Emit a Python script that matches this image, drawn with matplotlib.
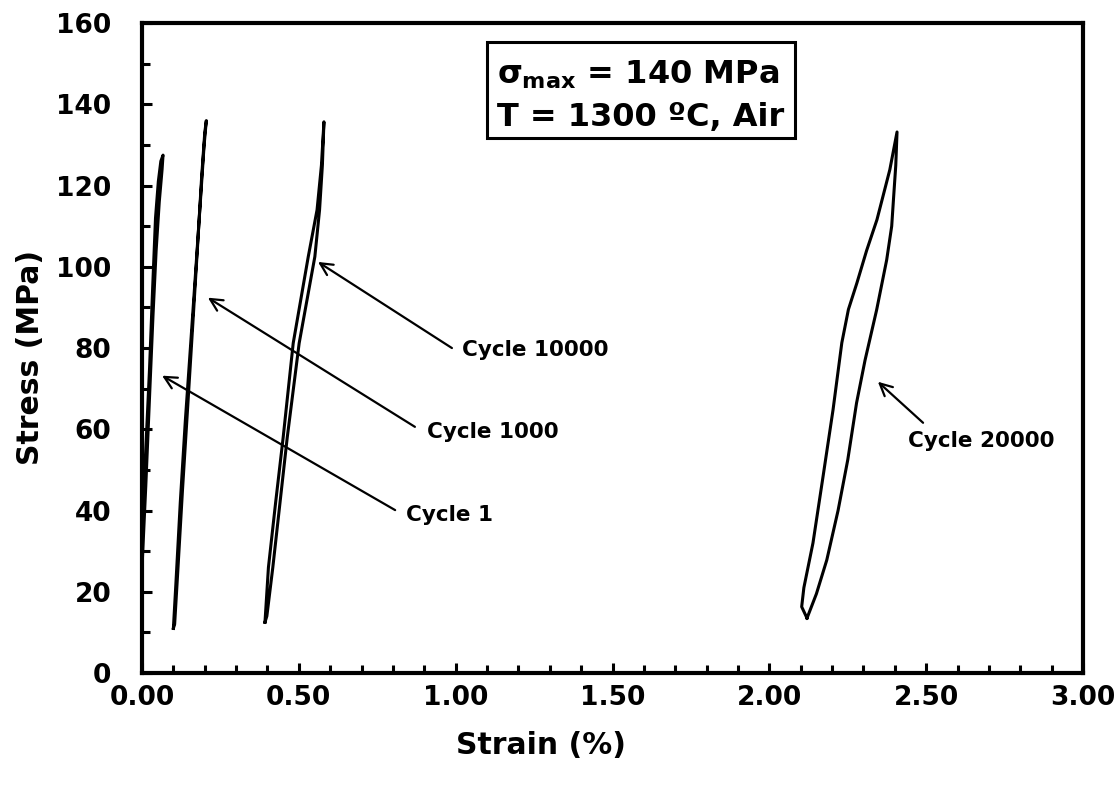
import matplotlib
matplotlib.use("Agg")
import matplotlib.pyplot as plt
from matplotlib.patches import Rectangle
from matplotlib.ticker import MultipleLocator, FormatStrFormatter

plt.rcParams['font.family'] = ['DejaVu Sans']
plt.rcParams['font.weight'] = 'bold'
plt.rcParams['mathtext.fontset'] = 'custom'
plt.rcParams['mathtext.rm'] = 'DejaVu Sans:bold'
plt.rcParams['mathtext.it'] = 'DejaVu Sans:bold'
plt.rcParams['mathtext.bf'] = 'DejaVu Sans:bold'

# ---- data (strain %, stress MPa), closed hysteresis loops ----
c1_strain = [-0.020, 0.000, 0.012, 0.024, 0.034, 0.043, 0.052, 0.060, 0.067,
             0.064, 0.055, 0.045, 0.035, 0.024, 0.012, 0.000, -0.020]
c1_stress = [12, 36, 55, 75, 95, 112, 121, 126, 127.5,
             124, 116, 104, 88, 68, 46, 26, 5]

c1000_strain = [0.100, 0.108, 0.122, 0.138, 0.156, 0.172, 0.186, 0.198, 0.205,
                0.200, 0.190, 0.177, 0.162, 0.146, 0.129, 0.114, 0.104, 0.100]
c1000_stress = [11, 22, 42, 62, 82, 100, 116, 130, 136,
                133, 122, 105, 86, 66, 45, 25, 12, 11]

c10000_strain = [0.392, 0.403, 0.426, 0.450, 0.482, 0.530, 0.558, 0.572, 0.580,
                 0.575, 0.566, 0.551, 0.501, 0.463, 0.440, 0.417, 0.398, 0.392]
c10000_stress = [12.5, 26, 42, 58, 81.2, 102.5, 114, 125, 135.7,
                 125, 114, 102.5, 81.2, 58, 42, 26, 14, 12.5]

c20000_strain = [2.120, 2.103, 2.110, 2.139, 2.171, 2.203, 2.231, 2.252, 2.279, 2.310,
                 2.343, 2.384, 2.407,
                 2.403, 2.396, 2.390, 2.374, 2.342, 2.305, 2.278, 2.250, 2.219,
                 2.183, 2.150, 2.120]
c20000_stress = [13.5, 16.3, 21, 32, 48.3, 64.8, 81.3, 89.5, 96, 104,
                 111.6, 123.9, 133.2,
                 125, 117, 110, 101.7, 89.4, 77, 66.5, 52.5, 40,
                 27.8, 19.5, 13.5]

labels = ["Cycle 1", "Cycle 1000", "Cycle 10000", "Cycle 20000"]
arrow_heads = [(0.064, 73.2), (0.210, 92.4), (0.561, 101.2), (2.346, 71.7)]
arrow_tails = [(0.807, 40.1), (0.870, 60.6), (0.988, 80.0), (2.490, 61.6)]
label_pos = [(0.842, 38.8), (0.907, 59.4), (1.020, 79.4), (2.442, 57.0)]

box_x = [1.100, 2.082]
box_y = [131.7, 155.3]
box_lines = ["$\\sigma_{\\mathrm{max}}$ = 140 MPa", "T = 1300 ºC, Air"]
box_baselines = [145.2, 134.6]

fig = plt.figure(figsize=(11.2, 7.97), dpi=100)
ax = fig.add_axes([0.1268, 0.1556, 0.8402, 0.8154])

lw = 2.2
for xs, ys in [(c1_strain, c1_stress), (c1000_strain, c1000_stress),
               (c10000_strain, c10000_stress), (c20000_strain, c20000_stress)]:
    ax.plot(xs, ys, color='black', lw=lw, solid_joinstyle='round')

for lab, head, tail, pos in zip(labels, arrow_heads, arrow_tails, label_pos):
    ax.annotate("", xy=head, xytext=tail,
                arrowprops=dict(arrowstyle='->', color='black', lw=1.6,
                                mutation_scale=22, shrinkA=0, shrinkB=0))
    ax.text(pos[0], pos[1], lab, fontsize=15.5, fontweight='bold',
            ha='left', va='center')

ax.add_patch(Rectangle((box_x[0], box_y[0]), box_x[1] - box_x[0], box_y[1] - box_y[0],
                       fc='white', ec='black', lw=2.2, zorder=3))
for line, yb in zip(box_lines, box_baselines):
    ax.text(box_x[0] + 0.032, yb, line, fontsize=23, fontweight='bold',
            ha='left', va='baseline', zorder=4)

ax.set_xlim(0, 3.0)
ax.set_ylim(0, 160)
ax.xaxis.set_major_locator(MultipleLocator(0.5))
ax.xaxis.set_minor_locator(MultipleLocator(0.1))
ax.yaxis.set_major_locator(MultipleLocator(20))
ax.yaxis.set_minor_locator(MultipleLocator(10))
ax.xaxis.set_major_formatter(FormatStrFormatter('%.2f'))
ax.tick_params(which='both', direction='in', width=2.2, labelsize=19)
ax.tick_params(axis='y', pad=22)
ax.tick_params(axis='x', pad=9)
ax.tick_params(which='major', length=7)
ax.tick_params(which='minor', length=6)
for lab in ax.get_xticklabels() + ax.get_yticklabels():
    lab.set_fontweight('bold')
for sp in ax.spines.values():
    sp.set_linewidth(3)

ax.set_xlabel("Strain (%)", fontsize=21.5, fontweight='bold', va='center')
ax.set_ylabel("Stress (MPa)", fontsize=21.5, fontweight='bold', va='center')
ax.xaxis.set_label_coords(0.424, -0.111)
ax.yaxis.set_label_coords(-0.119, 0.486)

fig.savefig("out.png", dpi=100)
